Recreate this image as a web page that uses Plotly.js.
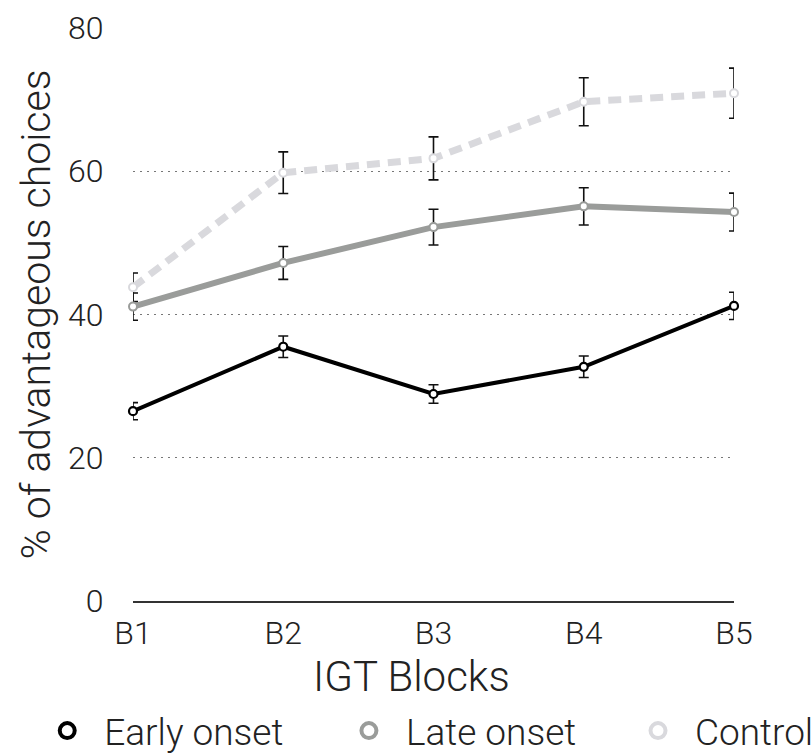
<!DOCTYPE html>
<html>
<head>
<meta charset="utf-8">
<script src="https://cdn.plot.ly/plotly-3.0.1.min.js"></script>
<style>html,body{margin:0;padding:0;background:#fff;}#chart{width:812px;height:755px;}</style>
</head>
<body>
<div id="chart"></div>
<script>
const blocks = ["B1", "B2", "B3", "B4", "B5"];
const seriesNames = ["Early onset", "Late onset", "Control"];
const earlyOnset = [26.5, 35.5, 28.9, 32.7, 41.2];
const earlyErr = [1.2, 1.5, 1.3, 1.5, 1.9];
const lateOnset = [41.1, 47.2, 52.2, 55.1, 54.3];
const lateErr = [1.9, 2.3, 2.5, 2.6, 2.65];
const control = [43.8, 59.8, 61.8, 69.7, 70.9];
const controlErr = [2.0, 2.9, 3.0, 3.35, 3.5];
const yTicks = [0, 20, 40, 60, 80];
const xTitle = "IGT Blocks";
const yTitle = "% of advantageous choices";

const FONT = "Roboto, 'Liberation Sans', sans-serif";
const errStyle = (arr) => ({type: "data", array: arr, visible: true, color: "#111", thickness: 1.6, width: 5});

const traces = [
  {x: blocks, y: control, name: seriesNames[2], mode: "lines+markers", showlegend: false,
   line: {color: "#d9d9dd", width: 7, dash: "13px,8px"},
   marker: {symbol: "circle", size: 8, color: "#fff", line: {color: "#d9d9dd", width: 2}},
   error_y: errStyle(controlErr), cliponaxis: false},
  {x: blocks, y: lateOnset, name: seriesNames[1], mode: "lines+markers", showlegend: false,
   line: {color: "#9a9c9a", width: 6},
   marker: {symbol: "circle", size: 8, color: "#fff", line: {color: "#9a9c9a", width: 2}},
   error_y: errStyle(lateErr), cliponaxis: false},
  {x: blocks, y: earlyOnset, name: seriesNames[0], mode: "lines+markers", showlegend: false,
   line: {color: "#000", width: 4},
   marker: {symbol: "circle", size: 8, color: "#fff", line: {color: "#000", width: 2.2}},
   error_y: errStyle(earlyErr), cliponaxis: false},
];
const legendColors = ["#000", "#9a9c9a", "#d9d9dd"];
const legendIds = ["legend", "legend2", "legend3"];
seriesNames.forEach((n, i) => {
  traces.push({x: [null], y: [null], name: n, mode: "markers", showlegend: true, legend: legendIds[i],
    marker: {symbol: "circle", size: 15, color: "#fff", line: {color: legendColors[i], width: 4}}});
});

const legendBase = (x) => ({orientation: "h", x: x, xanchor: "left", y: -0.227, yanchor: "middle",
    font: {size: 37, family: FONT, color: "#222", weight: 300},
    itemwidth: 64, itemclick: false, bgcolor: "rgba(0,0,0,0)"});

const layout = {
  width: 812, height: 755,
  margin: {l: 133, r: 78, t: 28, b: 154, autoexpand: false},
  paper_bgcolor: "#fff", plot_bgcolor: "#fff",
  font: {family: FONT, color: "#222", weight: 300},
  showlegend: true,
  legend: legendBase(-0.171),
  legend2: legendBase(0.331),
  legend3: legendBase(0.812),
  annotations: [{
    text: xTitle, xref: "paper", yref: "paper", x: 0.4626, y: -0.131,
    xanchor: "center", yanchor: "middle", showarrow: false,
    font: {size: 42, family: FONT, weight: 300, color: "#222"}
  }],
  xaxis: {
    type: "category", range: [0, 4],
    showline: true, linecolor: "#333", linewidth: 1.5,
    showgrid: false, zeroline: false,
    ticks: "outside", ticklen: 3, tickcolor: "rgba(0,0,0,0)",
    tickfont: {size: 32, family: FONT, weight: 300, color: "#222"}
  },
  yaxis: {
    range: [0, 80], tickvals: yTicks, ticktext: yTicks.map(String),
    showline: false, zeroline: false,
    showgrid: true, gridcolor: "#777", gridwidth: 1, griddash: "2px,5px",
    ticks: "outside", ticklen: 22, tickcolor: "rgba(0,0,0,0)",
    tickfont: {size: 32, family: FONT, weight: 300, color: "#222"},
    title: {text: yTitle, font: {size: 41, family: FONT, weight: 300, color: "#222"}, standoff: 4}
  }
};
Plotly.newPlot("chart", traces, layout, {displayModeBar: false, staticPlot: true});
</script>
</body>
</html>
